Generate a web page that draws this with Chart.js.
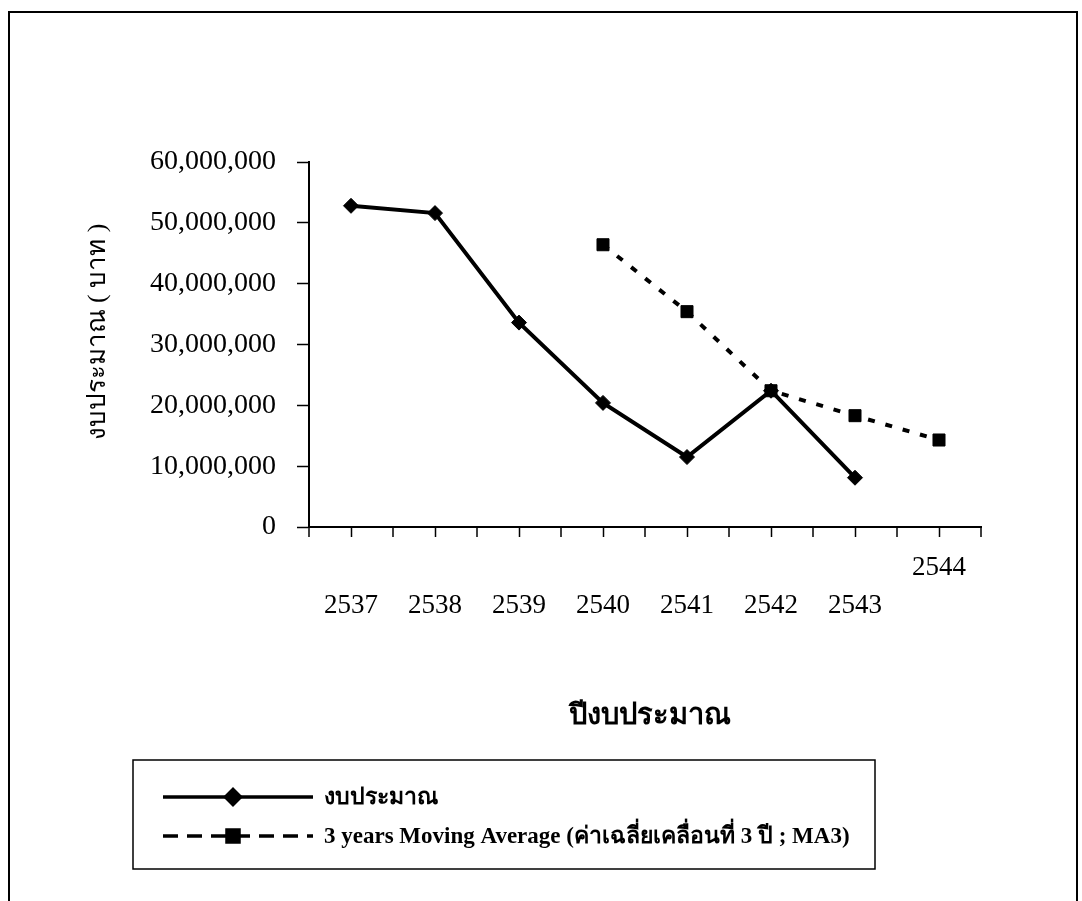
<!DOCTYPE html>
<html>
<head>
<meta charset="utf-8">
<script src="https://cdn.jsdelivr.net/npm/chart.js@4.4.1/dist/chart.umd.min.js"></script>
<style>
  html, body { margin: 0; padding: 0; background: #fff; }
</style>
</head>
<body>
<canvas id="budgetChart" width="1082" height="901"></canvas>
<script>
// values (baht)
const years = ['2537', '2538', '2539', '2540', '2541', '2542', '2543', '2544'];
const budget = [52800000, 51600000, 33600000, 20400000, 11500000, 22400000, 8100000, null];
const movingAvg = [null, null, null, 46400000, 35400000, 22400000, 18300000, 14300000];
const seriesNames = ['งบประมาณ', '3 years Moving Average (ค่าเฉลี่ยเคลื่อนที่ 3 ปี ; MA3)'];
const xTitle = 'ปีงบประมาณ';
const yTitle = 'งบประมาณ ( บาท )';

const SERIF = "'Liberation Serif', 'Times New Roman', serif";

// frame, axis titles, half-step x ticks and the boxed legend
const decorations = {
  id: 'decorations',
  afterDraw(chart) {
    const ctx = chart.ctx;
    const x = chart.scales.x;
    ctx.save();
    ctx.strokeStyle = '#000';
    ctx.fillStyle = '#000';

    // page frame (open at the bottom, like the scan)
    ctx.lineWidth = 2;
    ctx.beginPath();
    ctx.moveTo(9, 905); ctx.lineTo(9, 12); ctx.lineTo(1077, 12); ctx.lineTo(1077, 905);
    ctx.stroke();

    // extra tick marks between categories
    ctx.lineWidth = 1.5;
    for (let i = 0; i <= years.length; i++) {
      const px = x.getPixelForValue(i - 0.5);
      ctx.beginPath();
      ctx.moveTo(px, x.top);
      ctx.lineTo(px, x.top + 10);
      ctx.stroke();
    }

    // axis titles
    ctx.font = 'bold 29px ' + SERIF;
    ctx.textAlign = 'center';
    ctx.textBaseline = 'middle';
    ctx.fillText(xTitle, 650, 717);

    ctx.save();
    ctx.translate(98, 332);
    ctx.rotate(-Math.PI / 2);
    ctx.font = '26px ' + SERIF;
    ctx.fillText(yTitle, 0, 0);
    ctx.restore();

    // legend box
    ctx.lineWidth = 1.5;
    ctx.strokeRect(133, 760, 742, 109);

    const rows = [797, 836];
    chart.data.datasets.forEach((ds, i) => {
      const y = rows[i];
      ctx.lineWidth = 3.5;
      ctx.setLineDash(i === 0 ? [] : [15, 9]);
      ctx.beginPath();
      ctx.moveTo(163, y);
      ctx.lineTo(313, y);
      ctx.stroke();
      ctx.setLineDash([]);
      Chart.helpers.drawPoint(ctx, {
        pointStyle: ds.pointStyle, radius: ds.pointRadius, borderWidth: 1, rotation: 0
      }, 233, y);
      ctx.fill();
      ctx.font = 'bold 23px ' + SERIF;
      ctx.textAlign = 'left';
      ctx.fillText(ds.label, 324, y + 1);
    });

    ctx.restore();
  }
};

new Chart(document.getElementById('budgetChart'), {
  type: 'line',
  data: {
    labels: years,
    datasets: [
      {
        label: seriesNames[0],
        data: budget,
        borderColor: '#000',
        backgroundColor: '#000',
        borderWidth: 4,
        pointStyle: 'rectRot',
        pointRadius: 7.5,
        pointBorderWidth: 1,
        tension: 0,
        spanGaps: false
      },
      {
        label: seriesNames[1],
        data: movingAvg,
        borderColor: '#000',
        backgroundColor: '#000',
        borderWidth: 4,
        borderDash: [7, 11],
        pointStyle: 'rect',
        pointRadius: 8.5,
        pointBorderWidth: 1,
        tension: 0
      }
    ]
  },
  options: {
    responsive: false,
    animation: false,
    devicePixelRatio: 1,
    layout: { padding: { left: 0, right: 101, top: 162, bottom: 0 } },
    plugins: {
      legend: { display: false },
      tooltip: { enabled: false }
    },
    scales: {
      x: {
        offset: true,
        afterFit(s) { s.height = 374; },
        border: { display: true, color: '#000', width: 2 },
        grid: { drawOnChartArea: false, drawTicks: true, tickLength: 10, tickWidth: 1.5, tickColor: '#000' },
        ticks: {
          color: '#000',
          padding: 12,
          maxRotation: 0,
          autoSkip: false,
          font: { family: SERIF, size: 27, lineHeight: '38px' },
          // last year sits one line higher in the scan
          callback(v, i) {
            return i === years.length - 1 ? [years[i], ''] : ['', years[i]];
          }
        }
      },
      y: {
        min: 0,
        max: 60000000,
        afterFit(s) { s.width = 309; },
        border: { display: true, color: '#000', width: 2 },
        grid: { drawOnChartArea: false, drawTicks: true, tickLength: 12, tickWidth: 1.5, tickColor: '#000' },
        ticks: {
          stepSize: 10000000,
          color: '#000',
          padding: 21,
          font: { family: SERIF, size: 28 },
          callback: v => v.toLocaleString('en-US')
        }
      }
    }
  },
  plugins: [decorations]
});
</script>
</body>
</html>
